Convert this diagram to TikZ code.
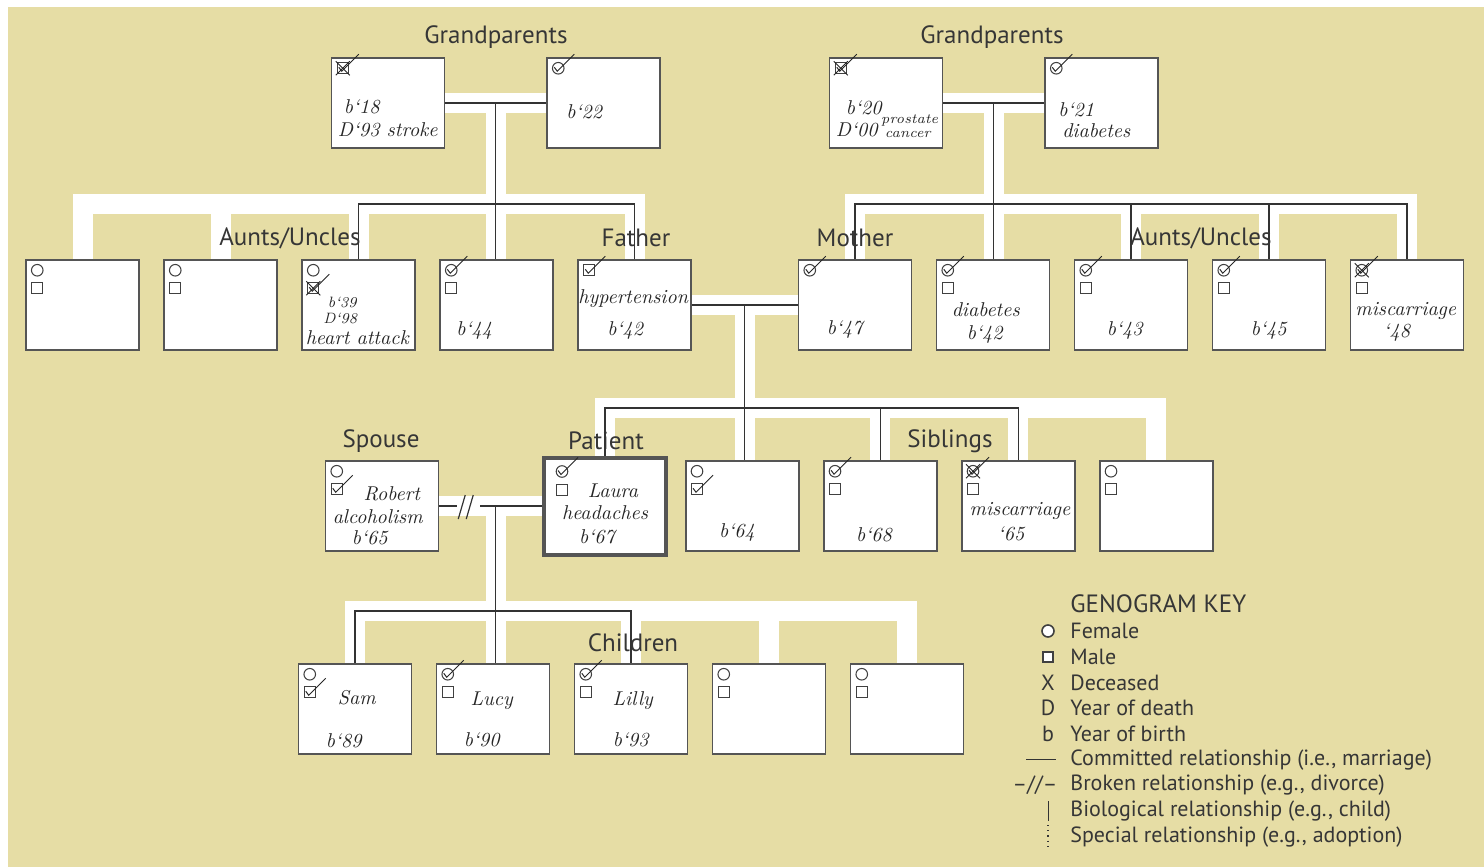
\documentclass[tikz,border=0pt]{standalone}
\usepackage{fontspec}
\setsansfont{PT Sans}
\usepackage{tikz}
\usetikzlibrary{positioning}
\usetikzlibrary{calc}
\pgfdeclarelayer{background}
\pgfsetlayers{background,main}
\definecolor{paper}{HTML}{E6DDA5}
\definecolor{ink}{HTML}{363636}
\definecolor{frame}{HTML}{555555}
% symbols inside a box: #1 reference point, #2 vertical slot
\newcommand{\fsym}[2]{\draw[glyph] ($(#1)+(12,#2)$) circle (2.9pt);}
\newcommand{\msym}[2]{\draw[glyph] ($(#1)+(12,#2)$) +(-5.5,-5.5) rectangle +(5.5,5.5);}
\newcommand{\chk}[2]{\draw[pen] ($(#1)+(8,#2-1)$) -- ++(3,4) -- ++(17,-17);}
\newcommand{\xdead}[2]{\draw[pen] ($(#1)+(5,#2-7)$) -- ++(14,14) ($(#1)+(5,#2+7)$) -- ++(14,-14);}

\begin{document}
\begin{tikzpicture}[x=0.5pt, y=-0.5pt, font=\sffamily]
    % Styles:
    \tikzset{person/.style={draw=frame, fill=white, line width=0.75pt, minimum width=56.5pt, minimum height=45pt, inner sep=0pt}}
    \tikzset{tag/.style={text=ink, font=\sffamily\fontsize{12.5}{14}\selectfont, inner sep=0pt}}
    \tikzset{keytext/.style={text=ink, font=\sffamily\fontsize{11}{13}\selectfont, inner sep=0pt}}
    \tikzset{hand/.style={text=black!85, font=\fontsize{10}{11}\selectfont\itshape, inner sep=0pt}}
    \tikzset{band/.style={draw=white, line width=10pt}}
    \tikzset{link/.style={draw=black!80, line width=0.6pt}}
    \tikzset{glyph/.style={draw=black!75, line width=0.5pt, fill=white}}
    \tikzset{pen/.style={draw=black!85, line width=0.5pt}}
    \tikzset{node distance = 11.75pt}

    \useasboundingbox (0,0) rectangle (1484,867);
    \begin{pgfonlayer}{background}
      \fill[white] (0,0) rectangle (1484,867);
      \fill[paper] (8,7) rectangle (1484,867);
    \end{pgfonlayer}

    % Grandparents:
    \node[person] (gp1) at (388,103) {};
    \node[person] (gp2) [right = 50.5pt of gp1] {};
    \node[person] (gp3) at (886,103) {};
    \node[person] (gp4) [right = 50.5pt of gp3] {};

    % Parents, aunts and uncles:
    \node[person] (au1) at (82.5,305) {};
    \node[person] (au2) [right = of au1] {};
    \node[person] (au3) [right = of au2] {};
    \node[person] (au4) [right = of au3] {};
    \node[person] (fa)  [right = of au4] {};
    \node[person] (mo)  [right = 53pt of fa] {};
    \node[person] (au5) [right = of mo] {};
    \node[person] (au6) [right = of au5] {};
    \node[person] (au7) [right = of au6] {};
    \node[person] (au8) [right = of au7] {};

    % Spouse, patient and siblings:
    \node[person] (sp) at (382,506) {};
    \node[person, line width=2pt, minimum width=61pt, minimum height=48.5pt] (pat) at (605,506) {};
    \node[person] (sib1) [right = 8.5pt of pat] {};
    \node[person] (sib2) [right = of sib1] {};
    \node[person] (sib3) [right = of sib2] {};
    \node[person] (sib4) [right = of sib3] {};

    % Children:
    \node[person] (ch1) at (355,709) {};
    \node[person] (ch2) [right = of ch1] {};
    \node[person] (ch3) [right = of ch2] {};
    \node[person] (ch4) [right = of ch3] {};
    \node[person] (ch5) [right = of ch4] {};

    % Generation labels:
    \node[tag] (lgp1)  at (496,37)  {Grandparents};
    \node[tag] (lgp2)  at (992,37)  {Grandparents};
    \node[tag] (lau1)  at (290,238) {Aunts/Uncles};
    \node[tag] (lfa)   at (636,238) {Father};
    \node[tag] (lmo)   at (855,238) {Mother};
    \node[tag] (lau2)  at (1201,238) {Aunts/Uncles};
    \node[tag] (lsp)   at (381,441) {Spouse};
    \node[tag] (lpat)  at (606,441) {Patient};
    \node[tag] (lsib)  at (950,441) {Siblings};
    \node[tag] (lch)   at (633,643) {Children};

    % Helper points:
    \coordinate (row1) at (0,204);
    \coordinate (row3) at (0,408);
    \coordinate (row4) at (0,611);
    \coordinate (m1) at ($(gp1.east)!0.5!(gp2.west)$);
    \coordinate (m2) at ($(gp3.east)!0.5!(gp4.west)$);
    \coordinate (m3) at ($(fa.east)!0.5!(mo.west)$);
    \coordinate (m4) at ($(sp.east)!0.55!(pat.west)$);
    \coordinate (brk) at ($(sp.east)+(27,0)$);

    % White bands behind the lines:
    \begin{pgfonlayer}{background}
      \draw[band] (gp1.east) -- (gp2.west);
      \draw[band] (m1) -- (m1 |- au4.north);
      \draw[band] (au1.north) |- (fa.north |- row1) -- (fa.north);
      \draw[band] (au2.north) -- (au2.north |- row1);
      \draw[band] (au3.north) -- (au3.north |- row1);
      \draw[band] (gp3.east) -- (gp4.west);
      \draw[band] (m2) -- (m2 |- au5.north);
      \draw[band] (mo.north) |- (au8.north |- row1) -- (au8.north);
      \draw[band] (au6.north) -- (au6.north |- row1);
      \draw[band] (au7.north) -- (au7.north |- row1);
      \draw[band] (fa.east) -- (mo.west);
      \draw[band] (m3) -- (m3 |- sib1.north);
      \draw[band] (pat.north) |- (sib4.north |- row3) -- (sib4.north);
      \draw[band] (sib2.north) -- (sib2.north |- row3);
      \draw[band] (sib3.north) -- (sib3.north |- row3);
      \draw[band] (sp.east) -- (pat.west);
      \draw[band] (m4) -- (m4 |- ch2.north);
      \draw[band] (ch1.north) |- (ch5.north |- row4) -- (ch5.north);
      \draw[band] (ch3.north) -- (ch3.north |- row4);
      \draw[band] (ch4.north) -- (ch4.north |- row4);
    \end{pgfonlayer}

    % Family lines:
    \draw[link] (gp1.east) -- (gp2.west);
    \draw[link] (m1) -- (m1 |- au4.north);
    \draw[link] (au3.north) |- (fa.north |- row1) -- (fa.north);
    \draw[link] (gp3.east) -- (gp4.west);
    \draw[link] (m2) -- (m2 |- au5.north);
    \draw[link] (mo.north) |- (au8.north |- row1) -- (au8.north);
    \draw[link] (au6.north) -- (au6.north |- row1);
    \draw[link] (au7.north) -- (au7.north |- row1);
    \draw[link] (fa.east) -- (mo.west);
    \draw[link] (m3) -- (m3 |- sib1.north);
    \draw[link] (pat.north) |- (sib3.north |- row3) -- (sib3.north);
    \draw[link] (sib2.north) -- (sib2.north |- row3);
    \draw[link] (sp.east) -- ($(sp.east)+(18,0)$);
    \draw[link] ($(sp.east)+(41,0)$) -- (pat.west);
    \draw[link] ($(brk)+(-8,13)$) -- ++(7,-24) ($(brk)+(0,13)$) -- ++(7,-24);
    \draw[link] (m4) -- (m4 |- ch2.north);
    \draw[link] (ch1.north) |- (ch3.north |- row4) -- (ch3.north);

    % Symbols:
    \coordinate (patc) at ($(pat.north west)+(8,5)$);
    \foreach \p in {au1,au2,sib4,ch4,ch5} {\fsym{\p.north west}{11} \msym{\p.north west}{29}}
    \foreach \p in {au4,au5,au6,au7,sib2,ch2,ch3} {\fsym{\p.north west}{11} \chk{\p.north west}{11} \msym{\p.north west}{29}}
    \foreach \p in {sp,sib1,ch1} {\fsym{\p.north west}{11} \msym{\p.north west}{29} \chk{\p.north west}{29}}
    \foreach \p in {au8,sib3} {\fsym{\p.north west}{11} \xdead{\p.north west}{11} \chk{\p.north west}{11} \msym{\p.north west}{29}}
    \foreach \p in {gp1,gp3} {\msym{\p.north west}{11} \xdead{\p.north west}{11} \chk{\p.north west}{11}}
    \foreach \p in {gp2,gp4,mo} {\fsym{\p.north west}{11} \chk{\p.north west}{11}}
    \msym{fa.north west}{11} \chk{fa.north west}{11}
    \fsym{au3.north west}{11} \msym{au3.north west}{29} \xdead{au3.north west}{29} \chk{au3.north west}{29}
    \fsym{patc}{11} \chk{patc}{11} \msym{patc}{29}

    % Notes:
    \node[hand] (n1)  at ($(gp1.north west)+(31,50)$) {b`18};
    \node[hand] (n2)  at ($(gp1.north west)+(57,73)$) {D`93 stroke};
    \node[hand] (n3)  at ($(gp2.north west)+(38,55)$) {b`22};
    \node[hand] (n4)  at ($(gp3.north west)+(35,51)$) {b`20};
    \node[hand] (n5)  at ($(gp3.north west)+(28,73)$) {D`00};
    \node[hand, font=\fontsize{7}{8}\selectfont\itshape] (n6) at ($(gp3.north west)+(81,63)$) {prostate};
    \node[hand, font=\fontsize{7}{8}\selectfont\itshape] (n7) at ($(gp3.north west)+(79,77)$) {cancer};
    \node[hand] (n8)  at ($(gp4.north west)+(32,53)$) {b`21};
    \node[hand] (n9)  at ($(gp4.north west)+(52,73)$) {diabetes};
    \node[hand, font=\fontsize{7.5}{8}\selectfont\itshape] (n10) at ($(au3.north west)+(41,43)$) {b`39};
    \node[hand, font=\fontsize{7.5}{8}\selectfont\itshape] (n11) at ($(au3.north west)+(39,59)$) {D`98};
    \node[hand] (n12) at ($(au3.north west)+(56,78)$) {heart attack};
    \node[hand] (n13) at ($(au4.north west)+(35,71)$) {b`44};
    \node[hand] (n14) at ($(fa.north west)+(56,39)$) {hypertension};
    \node[hand] (n15) at ($(fa.north west)+(48,71)$) {b`42};
    \node[hand] (n16) at ($(mo.north west)+(47,70)$) {b`47};
    \node[hand] (n17) at ($(au5.north west)+(50,50)$) {diabetes};
    \node[hand] (n18) at ($(au5.north west)+(49,75)$) {b`42};
    \node[hand] (n19) at ($(au6.north west)+(51,71)$) {b`43};
    \node[hand] (n20) at ($(au7.north west)+(57,71)$) {b`45};
    \node[hand] (n21) at ($(au8.north west)+(56,52)$) {miscarriage};
    \node[hand] (n22) at ($(au8.north west)+(47,73)$) {`48};
    \node[hand] (n23) at ($(sp.north west)+(67,34)$) {Robert};
    \node[hand] (n24) at ($(sp.north west)+(53,56)$) {alcoholism};
    \node[hand] (n25) at ($(sp.north west)+(45,78)$) {b`65};
    \node[hand] (n26) at ($(pat.north west)+(71,35)$) {Laura};
    \node[hand] (n27) at ($(pat.north west)+(63,57)$) {headaches};
    \node[hand] (n28) at ($(pat.north west)+(55,81)$) {b`67};
    \node[hand] (n29) at ($(sib1.north west)+(52,72)$) {b`64};
    \node[hand] (n30) at ($(sib2.north west)+(51,75)$) {b`68};
    \node[hand] (n31) at ($(sib3.north west)+(59,51)$) {miscarriage};
    \node[hand] (n32) at ($(sib3.north west)+(50,74)$) {`65};
    \node[hand] (n33) at ($(ch1.north west)+(59,34)$) {Sam};
    \node[hand] (n34) at ($(ch1.north west)+(46,78)$) {b`89};
    \node[hand] (n35) at ($(ch2.north west)+(56,37)$) {Lucy};
    \node[hand] (n36) at ($(ch2.north west)+(46,77)$) {b`90};
    \node[hand] (n37) at ($(ch3.north west)+(59,37)$) {Lilly};
    \node[hand] (n38) at ($(ch3.north west)+(57,77)$) {b`93};

    % Key:
    \node[tag, anchor=west] (keyhead) at (1070,604) {GENOGRAM KEY};
    \foreach \txt [count=\i] in {Female, Male, Deceased, Year of death, Year of birth,
        {Committed relationship (i.e., marriage)}, {Broken relationship (e.g., divorce)},
        {Biological relationship (e.g., child)}, {Special relationship (e.g., adoption)}}
      \node[keytext, anchor=west] (key\i) at (1070,{631+25.75*(\i-1)}) {\txt};
    \draw[glyph, line width=0.8pt] ($(key1.west)+(-22,0)$) circle (3pt);
    \draw[glyph, line width=0.8pt] ($(key2.west)+(-22,0)$) +(-5,-5) rectangle +(5,5);
    \node[keytext] (kx) at ($(key3.west)+(-22,0)$) {X};
    \node[keytext] (kd) at ($(key4.west)+(-22,0)$) {D};
    \node[keytext] (kb) at ($(key5.west)+(-22,0)$) {b};
    \draw[link] ($(key6.west)+(-44,0)$) -- ++(30,0);
    \node[keytext] (kbrk) at ($(key7.west)+(-35,0)$) {–//–};
    \draw[link, line width=0.4pt] ($(key8.west)+(-22,-10)$) -- ++(0,20);
    \draw[link, dotted] ($(key9.west)+(-22,-12)$) -- ++(0,25);
\end{tikzpicture}
\end{document}
